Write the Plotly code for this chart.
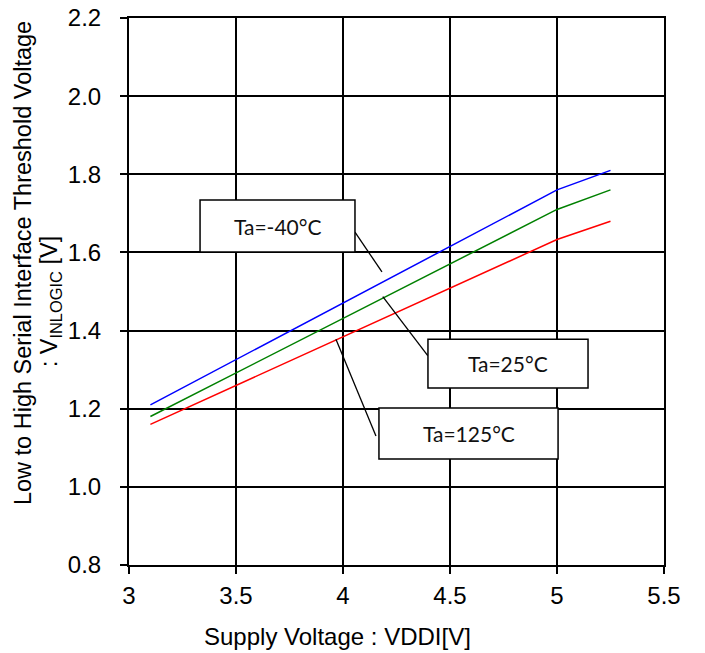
import plotly.graph_objects as go

vddi = [3.1, 5.0, 5.25]
v_m40 = [1.21, 1.76, 1.81]
v_25 = [1.18, 1.71, 1.76]
v_125 = [1.16, 1.633, 1.68]

x_ticks = [3, 3.5, 4, 4.5, 5, 5.5]
x_tick_text = ["3", "3.5", "4", "4.5", "5", "5.5"]
y_ticks = [0.8, 1.0, 1.2, 1.4, 1.6, 1.8, 2.0, 2.2]
y_tick_text = ["0.8", "1.0", "1.2", "1.4", "1.6", "1.8", "2.0", "2.2"]

labels = ["Ta=-40\u00b0C", "Ta=25\u00b0C", "Ta=125\u00b0C"]
# label boxes: (x0, x1, y0, y1) in data units, leader line (xa, ya, xb, yb)
boxes = [(3.332, 4.056, 1.601, 1.734), (4.397, 5.145, 1.253, 1.378), (4.168, 5.005, 1.071, 1.202)]
leaders = [(4.056, 1.652, 4.182, 1.550), (4.186, 1.487, 4.396, 1.336), (3.967, 1.378, 4.154, 1.130)]

fig = go.Figure()
for ys, c in [(v_m40, "#0000FF"), (v_25, "#008000"), (v_125, "#FF0000")]:
    fig.add_trace(go.Scatter(x=vddi, y=ys, mode="lines", line=dict(color=c, width=1.5),
                             showlegend=False, hoverinfo="skip"))

for (x0, x1, y0, y1), (xa, ya, xb, yb), t in zip(boxes, leaders, labels):
    fig.add_shape(type="line", x0=xa, y0=ya, x1=xb, y1=yb, xref="x", yref="y",
                  line=dict(color="black", width=1.3))
    fig.add_shape(type="rect", x0=x0, x1=x1, y0=y0, y1=y1, xref="x", yref="y",
                  line=dict(color="black", width=1.5), fillcolor="white")
    fig.add_annotation(x=(x0 + x1) / 2, y=(y0 + y1) / 2, xref="x", yref="y", text=t,
                       showarrow=False, font=dict(family="Lato, Noto Sans", size=21, color="#111"))

title_font = dict(family="Liberation Sans, Arial", size=23.5, color="black")
fig.add_annotation(xref="paper", yref="paper", x=0, xshift=-106, y=0.552, textangle=-90,
                   text="Low to High Serial Interface Threshold Voltage",
                   showarrow=False, xanchor="center", yanchor="middle", font=title_font)
fig.add_annotation(xref="paper", yref="paper", x=0, xshift=-79, y=0.482, textangle=-90,
                   text=": V<sub>INLOGIC</sub> [V]",
                   showarrow=False, xanchor="center", yanchor="middle", font=title_font)
fig.add_annotation(xref="paper", yref="paper", x=0.389, y=-0.130,
                   text="Supply Voltage : VDDI[V]", showarrow=False,
                   xanchor="center", yanchor="middle",
                   font=dict(family="Liberation Sans, Arial", size=24, color="black"))

axis_common = dict(showgrid=True, gridcolor="black", gridwidth=2, showline=True, linecolor="black",
                   linewidth=2, mirror=True, ticks="outside", ticklen=7, tickcolor="black",
                   tickwidth=2, zeroline=False,
                   tickfont=dict(family="Liberation Sans, Arial", size=24, color="black"))

fig.update_xaxes(range=[3, 5.5], tickvals=x_ticks, ticktext=x_tick_text, ticklabelstandoff=1,
                 **axis_common)
fig.update_yaxes(range=[0.8, 2.2], tickvals=y_ticks, ticktext=y_tick_text, ticklabelstandoff=14,
                 **axis_common)

fig.update_layout(width=705, height=653, margin=dict(l=129, r=41, t=18, b=88, autoexpand=False),
                  plot_bgcolor="white", paper_bgcolor="white")
fig.write_html("out.html", config={"displayModeBar": False},
               post_script="document.body.style.margin='0px';")
